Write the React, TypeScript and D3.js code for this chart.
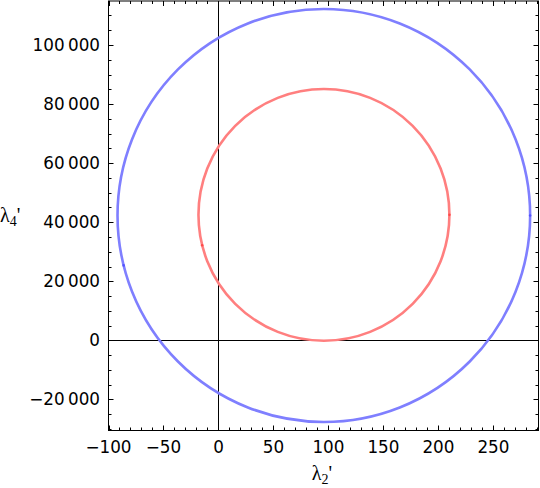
import React, { useRef, useEffect } from "react";
import * as d3 from "d3";

// ellipses: center (x, y) and radii (rx, ry) in data units
const curveNames = ["outer", "inner"];
const centerX = [95.8, 95.9];
const centerY = [42300, 42500];
const radiusX = [187.6, 114.1];
const radiusY = [69900, 42600];
const curveColors = ["#7f7fff", "#ff7f7f"];
const dotColors = ["#4848ff", "#ff3c3c"];
// parameter angles (degrees) where the small darker joints show up
const jointAngles = [0, 194];

const xMajor = [-100, -50, 0, 50, 100, 150, 200, 250];
const yMajor = [-20000, 0, 20000, 40000, 60000, 80000, 100000];

const W = 540;
const H = 488;

const fmt = d3.formatLocale({
  decimal: ".",
  thousands: "\u2009",
  grouping: [3],
  currency: ["", ""],
  minus: "\u2212",
}).format(",d");

const App = () => {
  const ref = useRef<SVGSVGElement | null>(null);

  useEffect(() => {
    const el = ref.current;
    if (!el) return;
    const svg = d3.select(el);
    svg.selectAll("*").remove();

    const left = 108.5, right = 538.5, top = 1, bottom = 430.5;

    const x = d3.scaleLinear().domain([-100, 291]).range([left, right]);
    const y = d3.scaleLinear().domain([-30500, 114900]).range([bottom, top]);

    const g = svg.append("g");

    // zero lines
    g.append("line")
      .attr("x1", Math.round(x(0)) + 0.5).attr("x2", Math.round(x(0)) + 0.5)
      .attr("y1", top).attr("y2", bottom)
      .attr("stroke", "#000").attr("stroke-width", 1);
    g.append("line")
      .attr("x1", left).attr("x2", right)
      .attr("y1", Math.round(y(0)) + 0.5).attr("y2", Math.round(y(0)) + 0.5)
      .attr("stroke", "#000").attr("stroke-width", 1);

    // ellipses
    curveNames.forEach((name, i) => {
      const cx = x(centerX[i]);
      const cy = y(centerY[i]);
      g.append("ellipse")
        .attr("class", name)
        .attr("cx", cx)
        .attr("cy", cy)
        .attr("rx", x(centerX[i] + radiusX[i]) - cx)
        .attr("ry", cy - y(centerY[i] + radiusY[i]))
        .attr("fill", "none")
        .attr("stroke", curveColors[i])
        .attr("stroke-width", 2.6);

      jointAngles.forEach((a) => {
        const t = (a * Math.PI) / 180;
        g.append("circle")
          .attr("cx", x(centerX[i] + radiusX[i] * Math.cos(t)))
          .attr("cy", y(centerY[i] + radiusY[i] * Math.sin(t)))
          .attr("r", 1.3)
          .attr("fill", dotColors[i])
          .attr("opacity", 0.8);
      });
    });

    // frame
    g.append("rect")
      .attr("x", left).attr("y", top)
      .attr("width", right - left).attr("height", bottom - top)
      .attr("fill", "none").attr("stroke", "#000").attr("stroke-width", 1);

    const majorLen = 5, minorLen = 3;
    const xMinor = d3.range(-100, 291, 10).filter((v) => v % 50 !== 0);
    const yMinor = d3.range(-30000, 114901, 5000).filter((v) => v % 20000 !== 0);

    const ticks = g.append("g").attr("stroke", "#000").attr("stroke-width", 1);
    const addX = (vals: number[], len: number) => {
      vals.forEach((v) => {
        const px = Math.round(x(v)) + 0.5;
        ticks.append("line").attr("x1", px).attr("x2", px).attr("y1", bottom).attr("y2", bottom - len);
        ticks.append("line").attr("x1", px).attr("x2", px).attr("y1", top).attr("y2", top + len);
      });
    };
    const addY = (vals: number[], len: number) => {
      vals.forEach((v) => {
        const py = Math.round(y(v)) + 0.5;
        ticks.append("line").attr("x1", left).attr("x2", left + len).attr("y1", py).attr("y2", py);
        ticks.append("line").attr("x1", right).attr("x2", right - len).attr("y1", py).attr("y2", py);
      });
    };
    addX(xMajor, majorLen);
    addX(xMinor, minorLen);
    addY(yMajor, majorLen);
    addY(yMinor, minorLen);

    const font = "'DejaVu Sans', sans-serif";

    g.append("g").selectAll("text")
      .data(xMajor)
      .enter()
      .append("text")
      .attr("x", (d) => x(d))
      .attr("y", 452.5)
      .attr("text-anchor", "middle")
      .attr("font-family", font)
      .attr("font-size", 16.8)
      .attr("fill", "#000")
      .text((d) => fmt(d));

    g.append("g").selectAll("text")
      .data(yMajor)
      .enter()
      .append("text")
      .attr("x", 100)
      .attr("y", (d) => y(d) + 6)
      .attr("text-anchor", "end")
      .attr("font-family", font)
      .attr("font-size", 16.8)
      .attr("fill", "#000")
      .text((d) => fmt(d));

    // axis titles
    const serif = "'Liberation Serif', 'Times New Roman', serif";
    const xt = svg.append("text")
      .attr("x", 322).attr("y", 480)
      .attr("text-anchor", "middle")
      .attr("font-family", serif).attr("font-size", 20).attr("fill", "#000");
    xt.append("tspan").text("λ");
    xt.append("tspan").attr("font-size", 14).attr("dy", 4).text("2");
    xt.append("tspan").attr("dy", -4).text("'");

    const yt = svg.append("text")
      .attr("x", 0).attr("y", 222)
      .attr("text-anchor", "start")
      .attr("font-family", serif).attr("font-size", 20).attr("fill", "#000");
    yt.append("tspan").text("λ");
    yt.append("tspan").attr("font-size", 14).attr("dy", 4).text("4");
    yt.append("tspan").attr("dy", -4).text("'");
  }, []);

  return (
    <div style={{ position: "fixed", left: 0, top: 0, width: W, height: H, background: "#fff" }}>
      <svg ref={ref} width={W} height={H} />
    </div>
  );
};

export default App;
